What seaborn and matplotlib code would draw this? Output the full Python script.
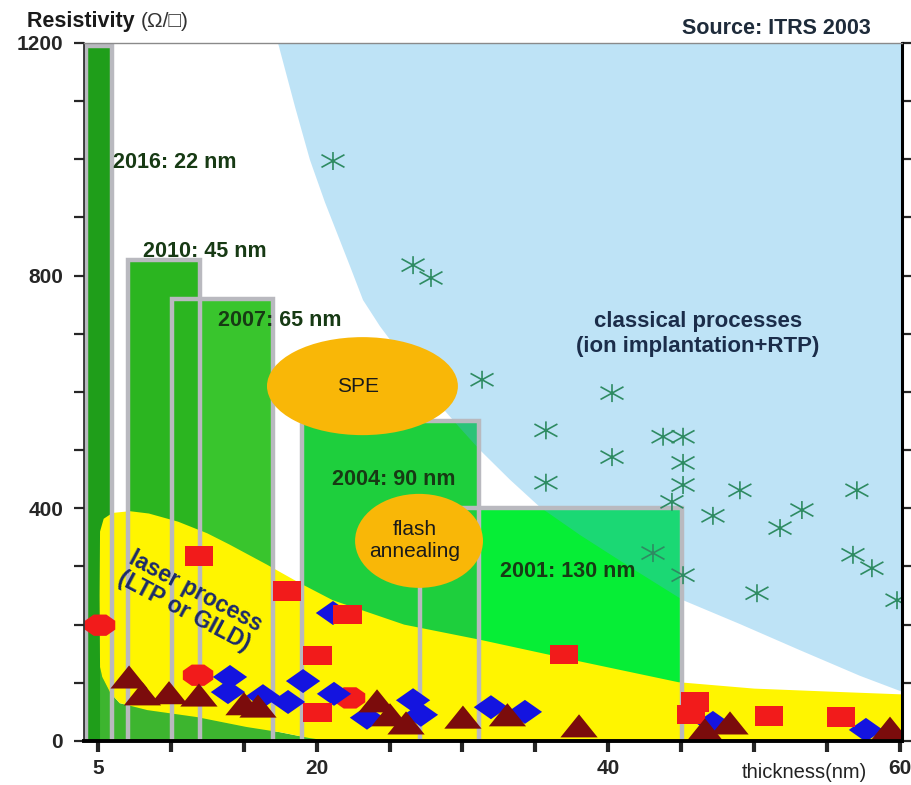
import numpy as np
import matplotlib
matplotlib.use('Agg')
import matplotlib.pyplot as plt
import seaborn as sns
from matplotlib.patches import Ellipse
from matplotlib.path import Path

# ITRS roadmap nodes (oldest first, newer ones drawn on top)
node_labels = ['2001: 130 nm', '2004: 90 nm', '2007: 65 nm', '2010: 45 nm', '2016: 22 nm']
node_left = [27.1, 19.0, 10.1, 7.1, 4.2]
node_right = [45.05, 31.1, 17.0, 12.0, 6.0]
node_top = [400, 550, 760, 827, 1195]
node_colors = ['#06ee36', '#1ecf3d', '#39c52d', '#2bb520', '#1f9e1a']
label_x = [32.6, 21.05, 13.25, 8.1, 6.05]
label_y = [291, 450, 722, 841, 994]

# classical processes window (lower-left boundary)
classic_x = [17.35, 18.52, 19.54, 20.57, 21.40, 22.29, 23.18, 24.34, 25.71, 27.08, 28.46,
             29.83, 31.20, 33.26, 35.31, 38.06, 41.48, 45.12, 49.02, 53.14, 57.25, 60.2]
classic_y = [1200, 1090, 999, 926, 873, 816, 758, 713, 667, 620, 577,
             538, 500, 449, 402, 354, 299, 242, 201, 156, 112, 84]

# laser process window
laser_top_x = [5.15, 5.12, 5.15, 5.4, 6.0, 7.2, 8.5, 10.5, 12.5, 14.0, 16.6, 18.8, 21.1,
               26.0, 31.2, 38.0, 44.8, 50.0, 55.0, 60.2]
laser_top_y = [127, 250, 360, 382, 392, 395, 391, 377, 357, 338, 303, 272, 242,
               200, 174, 137, 101, 90, 85, 80]
laser_bot_x = [60.2, 20.9, 19.5, 17.5, 15.2, 11.8, 8.4, 6.5, 5.85, 5.3]
laser_bot_y = [0, 0, 5, 15, 24, 41, 53, 65, 83, 110]

# other techniques (center x, center y, width, height)
ellipse_labels = ['SPE', 'flash\nannealing']
ellipse_x = [23.14, 27.02]
ellipse_y = [610, 344]
ellipse_w = [13.09, 8.77]
ellipse_h = [168.5, 161.6]

# measured junctions
sq_x = [11.93, 17.97, 22.12, 20.06, 20.06, 36.96, 45.94, 45.66, 51.01, 55.94]
sq_y = [318, 258, 217, 147, 49, 149, 67, 46, 43, 41]

oct_x = [5.15, 11.87, 22.29]
oct_y = [199, 113, 74]

dia_x = [14.06, 13.92, 16.32, 18.04, 19.07, 21.19, 21.12, 23.45, 26.61, 27.15, 31.95, 34.28, 47.17, 57.66]
dia_y = [110, 84, 77, 67, 103, 81, 220, 40, 70, 45, 58, 50, 31, 19]

tri_x = [7.14, 8.06, 9.88, 11.93, 15.02, 15.98, 24.14, 25.03, 26.13, 30.03, 33.08, 37.99, 46.62, 48.34, 59.31]
tri_y = [110, 81, 83, 79, 64, 60, 69, 45, 31, 41, 45, 26, 19, 31, 22]

ast_x = [21.12, 26.61, 27.84, 31.34, 40.25, 35.72, 40.25, 43.75, 45.12, 45.12, 45.12, 44.36,
         49.02, 57.04, 47.17, 53.27, 51.77, 43.06, 45.12, 56.77, 58.07, 50.19, 59.79, 35.72]
ast_y = [997, 818, 796, 621, 598, 534, 488, 523, 523, 478, 440, 411,
         431, 431, 387, 397, 366, 323, 285, 320, 297, 254, 242, 444]

sns.set_style('white')
plt.rcParams['font.family'] = ['Liberation Sans', 'DejaVu Sans']

fig = plt.figure(figsize=(9.12, 7.85), dpi=100)
ax = fig.add_axes([0.0921, 0.0561, 0.8969, 0.8892])

# roadmap bars
for i in range(len(node_labels)):
    ax.bar(node_left[i], node_top[i], width=node_right[i] - node_left[i], align='edge',
           color=node_colors[i], linewidth=0, zorder=1)

# classical window, semi transparent over the bars
ax.fill(classic_x + [62, 62], classic_y + [0, 1300], color='#45afe8', alpha=0.35,
        linewidth=0, zorder=2)

# green band under the laser window
band_x = laser_bot_x[1:] + [5.15, 5.15]
band_y = laser_bot_y[1:] + [127, 0]
ax.fill(band_x, band_y, color='#3db52f', linewidth=0, zorder=2.5)

# laser window
ax.fill(laser_top_x + laser_bot_x, laser_top_y + laser_bot_y, color='#fff500',
        linewidth=0, zorder=3)

# bar outlines on top of the windows
for i in range(len(node_labels)):
    ax.plot([node_left[i], node_left[i], node_right[i], node_right[i]],
            [0, node_top[i], node_top[i], 0], color='#b9b9bf', lw=3.2,
            solid_joinstyle='miter', zorder=4)
    ax.text(label_x[i], label_y[i], node_labels[i], ha='left', va='center',
            fontsize=15.5, fontweight='bold', color='#173a14', zorder=6)

for i in range(len(ellipse_labels)):
    ax.add_patch(Ellipse((ellipse_x[i], ellipse_y[i]), ellipse_w[i], ellipse_h[i],
                         color='#f9b707', lw=0, zorder=5))
    ax.text(ellipse_x[i] - 0.3, ellipse_y[i], ellipse_labels[i], ha='center', va='center',
            fontsize=15, color='#1a1a1a', linespacing=1.2, zorder=6)

ax.text(46.14, 700, 'classical processes\n(ion implantation+RTP)', ha='center', va='center',
        fontsize=16, fontweight='bold', color='#1b2d4a', linespacing=1.25, zorder=6)
ax.text(11.3, 240, 'laser process\n(LTP or GILD)', ha='center', va='center',
        rotation=-28, rotation_mode='anchor', fontsize=16.5, fontweight='bold',
        color='#1b2a6b', linespacing=1.0, zorder=6)

# marker shapes
rect = [(-1, -0.68), (1, -0.68), (1, 0.68), (-1, 0.68)]
diamond = [(-1, 0), (0, 0.7), (1, 0), (0, -0.7)]
triangle = [(-1, -0.62), (1, -0.62), (0, 0.62)]
ang = np.deg2rad(22.5 + 45 * np.arange(8))
octagon = list(zip(np.cos(ang), 0.7 * np.sin(ang)))
star = Path([(0, -0.78), (0, 0.78), (-1, -0.55), (1, 0.55), (-1, 0.55), (1, -0.55)],
            [Path.MOVETO, Path.LINETO] * 3)

sns.scatterplot(x=oct_x, y=oct_y, marker=octagon, s=480, color='#f21b1b',
                edgecolor='none', linewidth=0, zorder=7, ax=ax)
sns.scatterplot(x=dia_x, y=dia_y, marker=diamond, s=610, color='#1414e0',
                edgecolor='none', linewidth=0, zorder=7, ax=ax)
sns.scatterplot(x=sq_x, y=sq_y, marker=rect, s=420, color='#f21b1b',
                edgecolor='none', linewidth=0, zorder=7, ax=ax)
sns.scatterplot(x=tri_x, y=tri_y, marker=triangle, s=720, color='#7b0c0c',
                edgecolor='none', linewidth=0, zorder=7, ax=ax)
sns.scatterplot(x=ast_x, y=ast_y, marker=star, s=274, color='#2e8b62',
                facecolor='none', edgecolor='#2e8b62', linewidth=1.2, zorder=7, ax=ax)

ax.set_xlim(4.05, 60.13)
ax.set_ylim(0, 1200)

ax.set_xticks([5, 20, 40, 60])
ax.set_xticks([10, 15, 25, 30, 35, 45, 50, 55], minor=True)
ax.set_yticks([0, 400, 800, 1200])
ax.set_yticks(np.arange(100, 1200, 100), minor=True)
ax.tick_params(axis='x', which='both', direction='out', length=8, width=3, pad=5,
               labelsize=15, bottom=True)
ax.tick_params(axis='y', which='both', direction='out', length=7, width=1.6, pad=8,
               labelsize=15, left=True, right=True, labelright=False)
for lab in ax.get_xticklabels() + ax.get_yticklabels():
    lab.set_fontweight('bold')

ax.spines['bottom'].set_linewidth(2.8)
ax.spines['bottom'].set_color('black')
ax.spines['right'].set_linewidth(2.2)
ax.spines['right'].set_color('black')
ax.spines['left'].set_linewidth(1.2)
ax.spines['left'].set_color('#222222')
ax.spines['top'].set_linewidth(1.0)
ax.spines['top'].set_color('#8a8a8a')
for s in ax.spines.values():
    s.set_zorder(10)

t1 = fig.text(0.0296, 0.972, 'Resistivity ', ha='left', va='center', fontsize=15.5,
              fontweight='bold', color='#1a1a1a')
ax.annotate('(Ω/□)', xy=(1, 0.5), xycoords=t1, ha='left', va='center',
            fontsize=15, color='#333333', annotation_clip=False)
fig.text(0.955, 0.964, 'Source: ITRS 2003', ha='right', va='center', fontsize=15.5,
         fontweight='bold', color='#1e2b3a')
fig.text(0.882, 0.0153, 'thickness(nm)', ha='center', va='center', fontsize=14.5,
         color='#222222')

fig.savefig('out.png', dpi=100)
